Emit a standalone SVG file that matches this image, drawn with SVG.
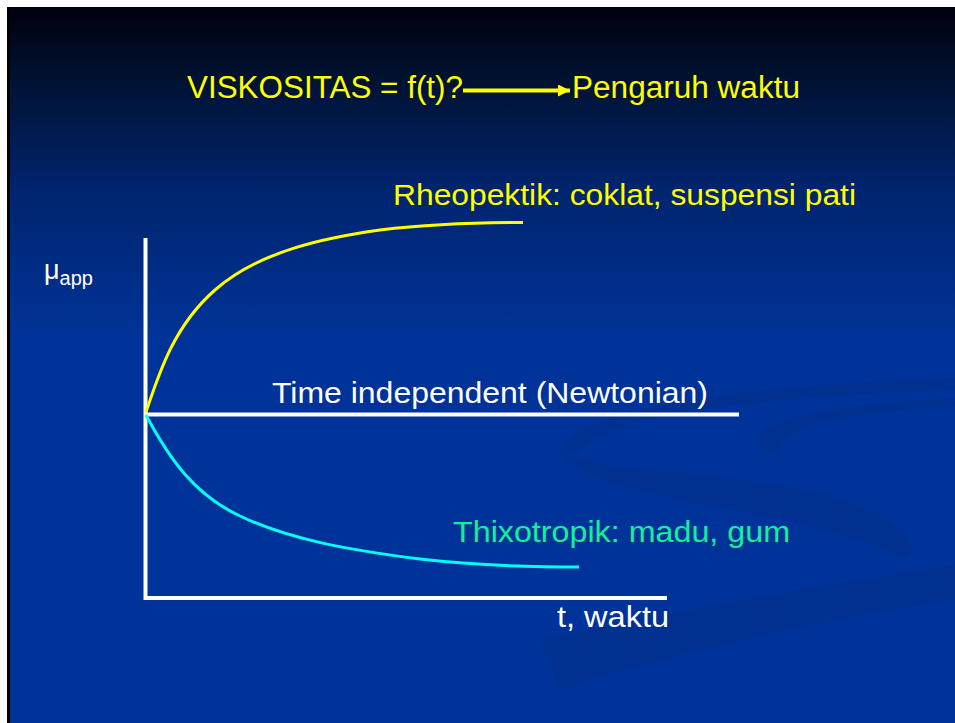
<svg xmlns="http://www.w3.org/2000/svg" width="955" height="723" viewBox="0 0 955 723">
<defs>
<linearGradient id="bg" x1="0" y1="7" x2="0" y2="340" gradientUnits="userSpaceOnUse">
<stop offset="0" stop-color="#00000e"/>
<stop offset="0.2" stop-color="#00112f"/>
<stop offset="0.55" stop-color="#00246e"/>
<stop offset="1" stop-color="#003399"/>
</linearGradient>
<marker id="ah" viewBox="0 0 10 10" refX="10" refY="5" markerWidth="3" markerHeight="3" orient="auto" markerUnits="strokeWidth">
<path d="M0,0 L10,5 L0,10 Z" fill="#ffff00"/>
</marker>
<style>
.t{font-family:"Liberation Sans",Arial,sans-serif;}
.ax{stroke:#ffffff;stroke-width:4;fill:none;}
.sw{fill:#002a80;opacity:0.35;}
</style>
</defs>
<rect x="0" y="0" width="955" height="723" fill="#ffffff"/>
<rect x="7" y="7" width="948" height="716" fill="url(#bg)"/>
<rect x="7" y="7" width="3" height="716" fill="#000000"/>
<g id="swooshes">
<path class="sw" d="M560 452 C575 405 760 385 955 378 L955 390 C780 395 600 415 578 452 Z"/>
<path class="sw" d="M560 452 C580 500 820 510 905 560 C930 540 880 500 780 485 C690 472 600 470 560 452 Z"/>
<path class="sw" d="M760 450 C740 420 830 405 955 398 L955 406 C850 412 770 425 780 455 Z"/>
<path class="sw" d="M540 640 C680 610 820 585 955 565 L955 600 C820 620 680 650 560 690 Z"/>
</g>
<g id="title">
<text class="t" x="187" y="98" font-size="31" fill="#ffff00" textLength="276" lengthAdjust="spacingAndGlyphs">VISKOSITAS = f(t)?</text>
<text class="t" x="572" y="98" font-size="31" fill="#ffff00" textLength="228" lengthAdjust="spacingAndGlyphs">Pengaruh waktu</text>
</g>
<g id="connectors">
<line x1="463" y1="90.5" x2="570" y2="90.5" stroke="#ffff00" stroke-width="4" marker-end="url(#ah)"/>
</g>
<g id="axes">
<line class="ax" x1="145.5" y1="238" x2="145.5" y2="600"/>
<line class="ax" x1="146" y1="598" x2="667" y2="598"/>
<line class="ax" x1="146" y1="414.5" x2="739" y2="414.5"/>
</g>
<g id="curves">
<path d="M146 412 C160 370 175 325 215 290 C260 250 330 237 380 230 C430 224 470 222.5 523 222.5" stroke="#ffff00" stroke-width="3" fill="none"/>
<path d="M146 415 C170 460 195 495 240 516 C290 540 350 550 420 559 C480 566 530 567 579 567" stroke="#00ffff" stroke-width="3" fill="none"/>
</g>
<g id="labels">
<text class="t" x="393" y="205" font-size="29" fill="#ffff00" textLength="463" lengthAdjust="spacingAndGlyphs">Rheopektik: coklat, suspensi pati</text>
<text class="t" x="272" y="403" font-size="29" fill="#ffffff" textLength="436" lengthAdjust="spacingAndGlyphs">Time independent (Newtonian)</text>
<text class="t" x="453" y="542" font-size="29" fill="#11f09a" textLength="337" lengthAdjust="spacingAndGlyphs">Thixotropik: madu, gum</text>
<text class="t" x="557" y="627" font-size="29" fill="#ffffff" textLength="112" lengthAdjust="spacingAndGlyphs">t, waktu</text>
<text class="t" x="44" y="279" font-size="27" fill="#ffffff">μ<tspan font-size="20" dy="6">app</tspan></text>
</g>
</svg>
